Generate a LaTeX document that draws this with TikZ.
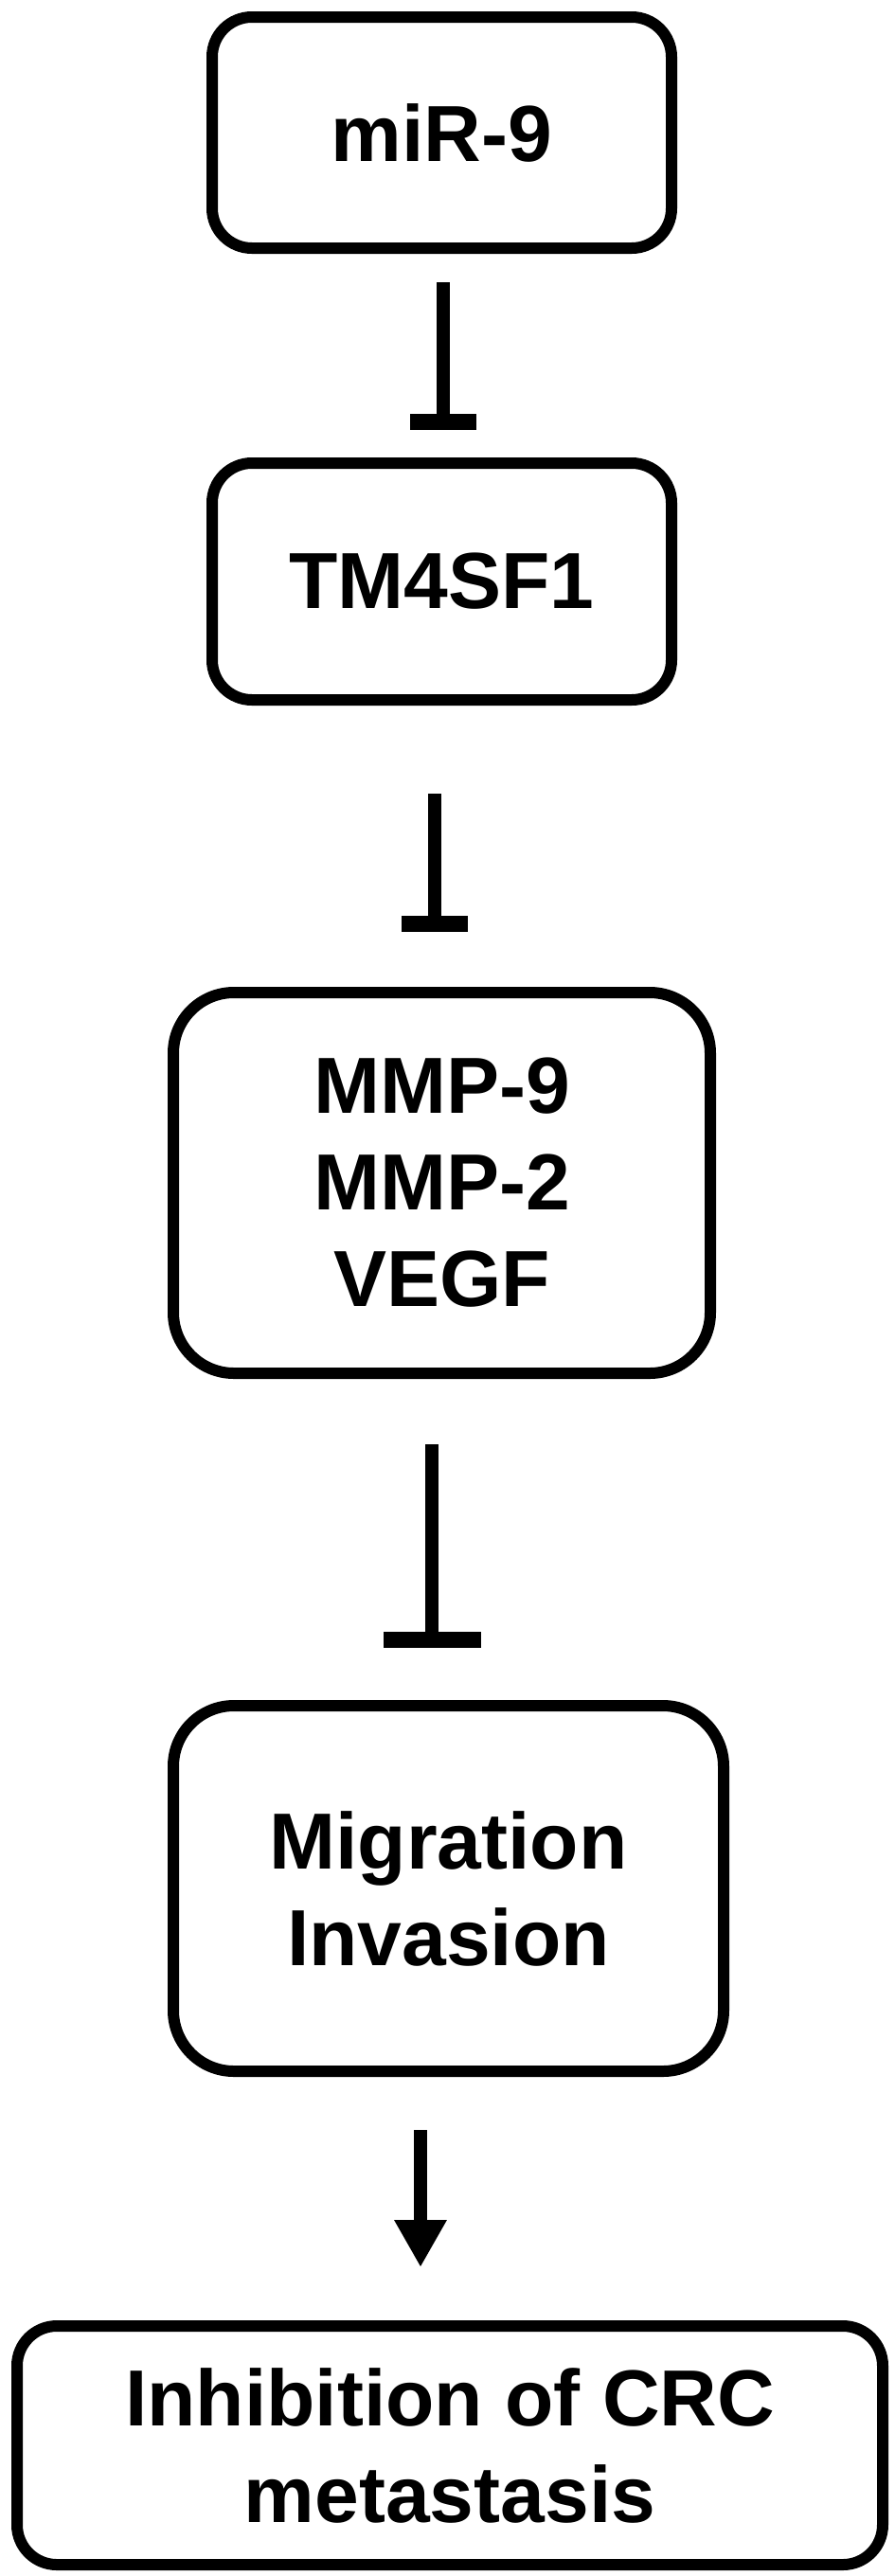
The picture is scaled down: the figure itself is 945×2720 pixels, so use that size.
\documentclass[tikz,border=0pt]{standalone}
\usepackage{fontspec}
\setmainfont{Liberation Sans}
\usetikzlibrary{arrows.meta,calc}
\begin{document}
\begin{tikzpicture}[x=0.5pt,y=-0.5pt,
  box/.style={draw=black, line width=6pt, rounded corners=21pt, outer sep=0pt, inner sep=0pt,
    align=center, font=\fontsize{42pt}{51pt}\selectfont\bfseries},
  bigbox/.style={box, rounded corners=32pt},
  inh/.style={line width=7pt, -{Rectangle[width=35pt,length=8.5pt]}},
  inhwide/.style={line width=7pt, -{Rectangle[width=51.5pt,length=8.5pt]}},
  act/.style={line width=7pt, -{Triangle[width=26pt,length=25pt]}}]
\useasboundingbox (0,0) rectangle (945,2720);
\fill[white] (0,0) rectangle (945,2720);
\node[box, minimum width=242.5pt, minimum height=122pt] (n1) at (466.5,140) {miR-9};
\node[box, minimum width=242.5pt, minimum height=125pt] (n2) at (466.5,614) {TM4SF1};
\node[bigbox, minimum width=283.5pt, minimum height=201pt] (n3) at (466.5,1249) {MMP-9\\MMP-2\\VEGF};
\node[bigbox, minimum width=290.5pt, minimum height=193pt] (n4) at (473.5,1994) {Migration\\Invasion};
\node[box, minimum width=457pt, minimum height=126pt] (n5) at (475,2582) {Inhibition of CRC\\metastasis};
\draw[inh] ($(n1.south)+(1.5,36)$) -- ($(n2.north)+(1.5,-35)$);
\draw[inh] ($(n2.south)+(-7.5,99)$) -- ($(n3.north)+(-7.5,-64)$);
\draw[inhwide] ($(n3.south)+(-10.5,75)$) -- ($(n4.north)+(-17.5,-61)$);
\draw[act] ($(n4.south)+(-29.5,62)$) -- ($(n5.north)+(-31,-62)$);
\end{tikzpicture}
\end{document}
